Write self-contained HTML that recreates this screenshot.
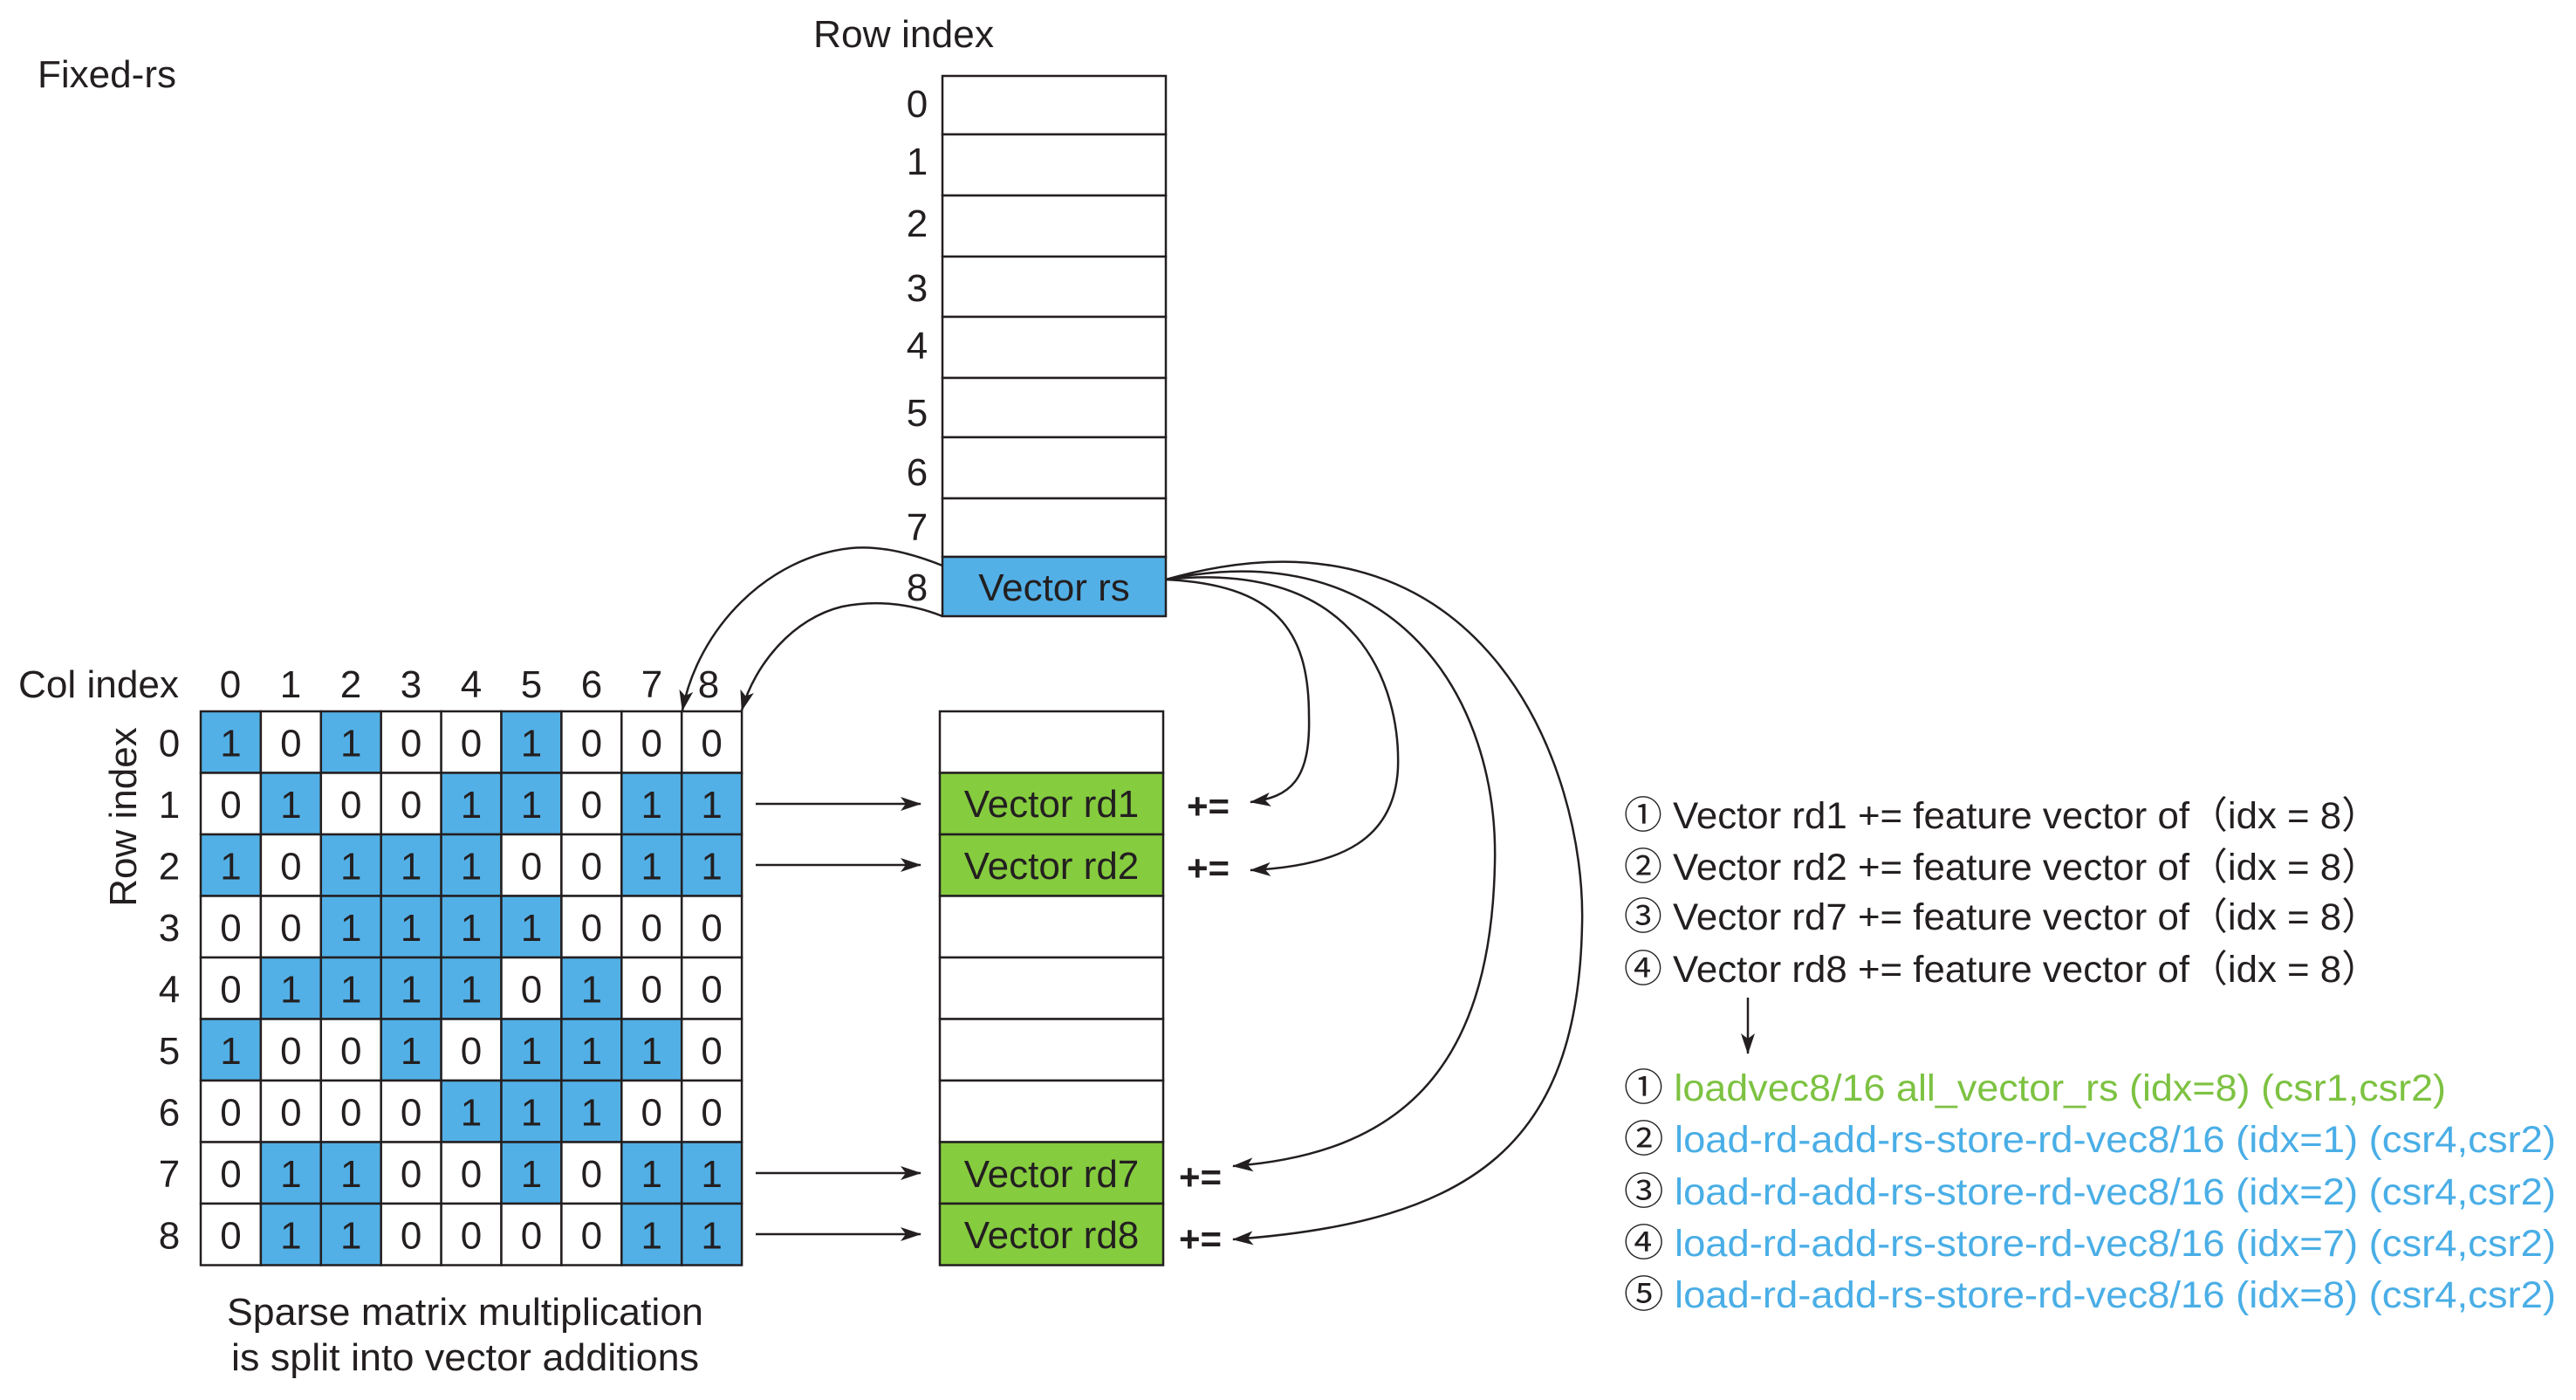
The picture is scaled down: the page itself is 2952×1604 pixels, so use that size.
<!DOCTYPE html>
<html><head><meta charset="utf-8"><style>
html,body{margin:0;padding:0;background:#fff;}
svg{display:block;}
text{font-family:"Liberation Sans","Noto Sans CJK SC",sans-serif;fill:#231f20;}
</style></head><body>
<svg width="2952" height="1604" viewBox="0 0 2952 1604" xmlns="http://www.w3.org/2000/svg">
<defs>
<marker id="ah" viewBox="0 0 24 16" refX="23" refY="8" markerWidth="24" markerHeight="16" markerUnits="userSpaceOnUse" orient="auto">
<path d="M0,0 L24,8 L0,16 L6,8 Z" fill="#231f20"/>
</marker>
</defs>

<text x="43" y="100" font-size="44" textLength="159" lengthAdjust="spacingAndGlyphs">Fixed-rs</text>
<text x="932" y="54" font-size="44" textLength="207" lengthAdjust="spacingAndGlyphs">Row index</text>

<g stroke="#231f20" stroke-width="2.5" fill="#fff">
<rect x="1080" y="87" width="256" height="67"/>
<rect x="1080" y="154" width="256" height="70"/>
<rect x="1080" y="224" width="256" height="70"/>
<rect x="1080" y="294" width="256" height="69"/>
<rect x="1080" y="363" width="256" height="70"/>
<rect x="1080" y="433" width="256" height="68"/>
<rect x="1080" y="501" width="256" height="70"/>
<rect x="1080" y="571" width="256" height="67"/>
<rect x="1080" y="638" width="256" height="68" fill="#52b0e6"/>
</g>
<text x="1208" y="688" font-size="44" text-anchor="middle">Vector rs</text>
<g font-size="44" text-anchor="middle">
<text x="1051" y="134">0</text><text x="1051" y="200">1</text><text x="1051" y="271">2</text>
<text x="1051" y="345">3</text><text x="1051" y="411">4</text><text x="1051" y="488">5</text>
<text x="1051" y="556">6</text><text x="1051" y="619">7</text><text x="1051" y="688">8</text>
</g>

<text x="21" y="799" font-size="44" textLength="184" lengthAdjust="spacingAndGlyphs">Col index</text>
<g font-size="44" text-anchor="middle">
<text x="264" y="799">0</text><text x="333" y="799">1</text><text x="402" y="799">2</text>
<text x="471" y="799">3</text><text x="540" y="799">4</text><text x="609" y="799">5</text>
<text x="678" y="799">6</text><text x="747" y="799">7</text><text x="812" y="799">8</text>
</g>
<text transform="translate(156,936) rotate(-90)" font-size="44" text-anchor="middle">Row index</text>
<g id="mat"></g>
<g font-size="44" text-anchor="middle" id="rowlab"></g>

<g stroke="#231f20" stroke-width="2.5">
<rect x="1077" y="815" width="256" height="70.5" fill="#fff"/>
<rect x="1077" y="885.5" width="256" height="70.5" fill="#86cc3f"/>
<rect x="1077" y="956" width="256" height="70.5" fill="#86cc3f"/>
<rect x="1077" y="1026.5" width="256" height="70.5" fill="#fff"/>
<rect x="1077" y="1097" width="256" height="70.5" fill="#fff"/>
<rect x="1077" y="1167.5" width="256" height="70.5" fill="#fff"/>
<rect x="1077" y="1238" width="256" height="70.5" fill="#fff"/>
<rect x="1077" y="1308.5" width="256" height="70.5" fill="#86cc3f"/>
<rect x="1077" y="1379" width="256" height="70.5" fill="#86cc3f"/>
</g>
<g font-size="44" text-anchor="middle">
<text x="1205" y="936">Vector rd1</text>
<text x="1205" y="1007">Vector rd2</text>
<text x="1205" y="1360">Vector rd7</text>
<text x="1205" y="1430">Vector rd8</text>
</g>
<g font-size="42" font-weight="bold">
<text x="1360" y="938">+=</text>
<text x="1360" y="1009">+=</text>
<text x="1351" y="1363">+=</text>
<text x="1351" y="1434">+=</text>
</g>

<g stroke="#231f20" stroke-width="2.5" fill="none" marker-end="url(#ah)">
<line x1="866" y1="921" x2="1055" y2="921"/>
<line x1="866" y1="991" x2="1055" y2="991"/>
<line x1="866" y1="1344" x2="1055" y2="1344"/>
<line x1="866" y1="1414" x2="1055" y2="1414"/>
</g>

<g stroke="#231f20" stroke-width="2.5" fill="none" marker-end="url(#ah)">
<path d="M1080,648 C1040,632 1005,625 975,628 C880,638 800,720 782,814"/>
<path d="M1080,706 C1040,690 1000,688 965,695 C910,708 865,760 850,814"/>
<path d="M1336,664 C1460,670 1500,720 1500,820 C1502,895 1478,913 1433,919"/>
<path d="M1336,664 C1560,640 1605,790 1602,880 C1598,960 1540,992 1433,997"/>
<path d="M1336,664 C1600,610 1718,800 1713,990 C1708,1230 1600,1322 1413,1336"/>
<path d="M1336,664 C1700,560 1818,880 1813,1060 C1808,1310 1690,1400 1413,1420"/>
</g>

<text x="533" y="1518" font-size="44" text-anchor="middle" textLength="546" lengthAdjust="spacingAndGlyphs">Sparse matrix multiplication</text>
<text x="533" y="1570" font-size="44" text-anchor="middle" textLength="536" lengthAdjust="spacingAndGlyphs">is split into vector additions</text>

<g font-size="43">
<text x="1861" y="949" textLength="866" lengthAdjust="spacingAndGlyphs">① Vector rd1 += feature vector of（idx = 8）</text>
<text x="1861" y="1008" textLength="866" lengthAdjust="spacingAndGlyphs">② Vector rd2 += feature vector of（idx = 8）</text>
<text x="1861" y="1065" textLength="866" lengthAdjust="spacingAndGlyphs">③ Vector rd7 += feature vector of（idx = 8）</text>
<text x="1861" y="1125" textLength="866" lengthAdjust="spacingAndGlyphs">④ Vector rd8 += feature vector of（idx = 8）</text>
</g>
<line x1="2003" y1="1143" x2="2003" y2="1207" stroke="#231f20" stroke-width="2.5" marker-end="url(#ah)"/>
<g font-size="43">
<text x="1861" y="1261" textLength="942" lengthAdjust="spacingAndGlyphs"><tspan style="fill:#231f20">①</tspan><tspan style="fill:#7dc242"> loadvec8/16 all_vector_rs (idx=8) (csr1,csr2)</tspan></text>
<text x="1861" y="1320" textLength="1068" lengthAdjust="spacingAndGlyphs"><tspan style="fill:#231f20">②</tspan><tspan style="fill:#4aaee6"> load-rd-add-rs-store-rd-vec8/16  (idx=1) (csr4,csr2)</tspan></text>
<text x="1861" y="1380" textLength="1068" lengthAdjust="spacingAndGlyphs"><tspan style="fill:#231f20">③</tspan><tspan style="fill:#4aaee6"> load-rd-add-rs-store-rd-vec8/16  (idx=2) (csr4,csr2)</tspan></text>
<text x="1861" y="1439" textLength="1068" lengthAdjust="spacingAndGlyphs"><tspan style="fill:#231f20">④</tspan><tspan style="fill:#4aaee6"> load-rd-add-rs-store-rd-vec8/16  (idx=7) (csr4,csr2)</tspan></text>
<text x="1861" y="1498" textLength="1068" lengthAdjust="spacingAndGlyphs"><tspan style="fill:#231f20">⑤</tspan><tspan style="fill:#4aaee6"> load-rd-add-rs-store-rd-vec8/16  (idx=8) (csr4,csr2)</tspan></text>
</g>
</svg>
<script>
(function(){
var M=[[1,0,1,0,0,1,0,0,0],[0,1,0,0,1,1,0,1,1],[1,0,1,1,1,0,0,1,1],[0,0,1,1,1,1,0,0,0],[0,1,1,1,1,0,1,0,0],[1,0,0,1,0,1,1,1,0],[0,0,0,0,1,1,1,0,0],[0,1,1,0,0,1,0,1,1],[0,1,1,0,0,0,0,1,1]];
var ns="http://www.w3.org/2000/svg";
var g=document.getElementById("mat"),rl=document.getElementById("rowlab");
var x0=230,y0=815,w=68.9,h=70.5;
for(var r=0;r<9;r++){
 var t=document.createElementNS(ns,"text");t.setAttribute("x",194);t.setAttribute("y",y0+r*h+h/2+16);t.textContent=r;rl.appendChild(t);
 for(var c=0;c<9;c++){
  var rc=document.createElementNS(ns,"rect");
  rc.setAttribute("x",x0+c*w);rc.setAttribute("y",y0+r*h);rc.setAttribute("width",w);rc.setAttribute("height",h);
  rc.setAttribute("fill",M[r][c]?"#52b0e6":"#fff");rc.setAttribute("stroke","#231f20");rc.setAttribute("stroke-width","2.5");
  g.appendChild(rc);
  var tx=document.createElementNS(ns,"text");tx.setAttribute("x",x0+c*w+w/2);tx.setAttribute("y",y0+r*h+h/2+16);
  tx.setAttribute("font-size","44");tx.setAttribute("text-anchor","middle");tx.textContent=M[r][c];g.appendChild(tx);
 }
}
})();
</script>
</body></html>
